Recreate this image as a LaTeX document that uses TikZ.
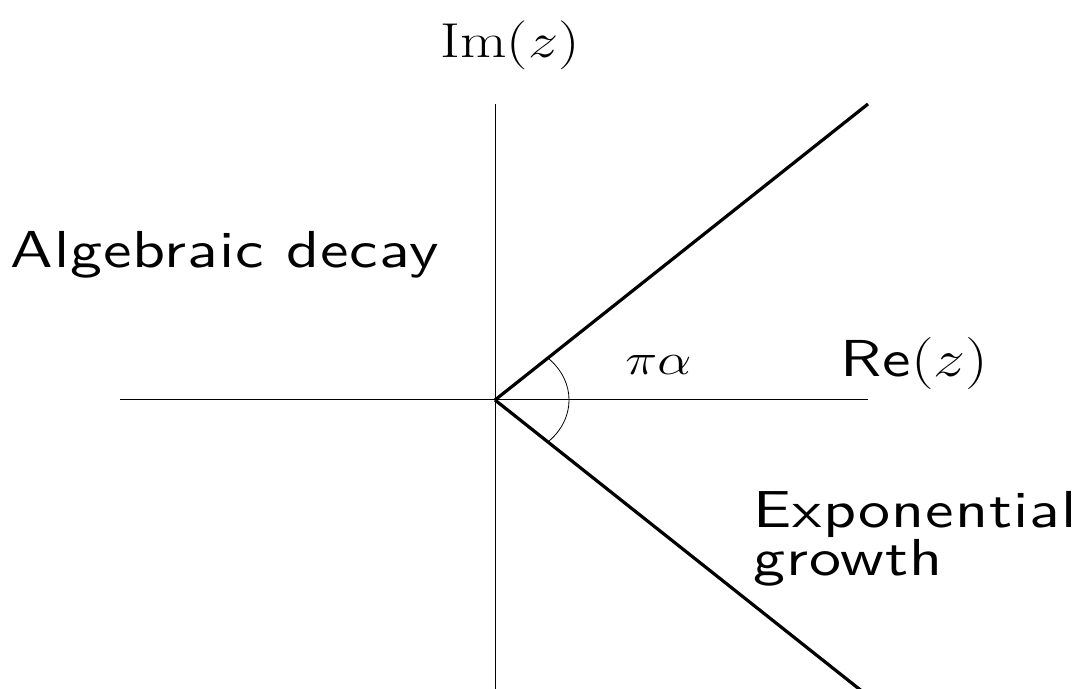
\RequirePackage{fix-cm}
\documentclass[tikz,border=0pt]{standalone}
\usepackage{fontspec}
\setsansfont{lmsans10-regular.otf}[LetterSpace=1.5]
\usepackage{tikz}
\usetikzlibrary{positioning}

\begin{document}
\begin{tikzpicture}[x=0.5pt,y=0.5pt,
  axis/.style={line width=0.5pt},
  ray/.style={line width=1.6pt},
  lbl/.style={inner sep=0pt,anchor=base west,xscale=1.23,font=\fontsize{26}{21.5}\selectfont\sffamily}]
\useasboundingbox (0,0) rectangle (1077,689);
\clip (0,0) rectangle (1077,689);
% Axes
\coordinate (O) at (495,289);
\coordinate (ytop) at (495,585);
\coordinate (ybot) at (495,0);
\coordinate (xleft) at (120,289);
\coordinate (xright) at (868,289);
\draw[axis] (xleft) -- (xright);
\draw[axis] (ybot) -- (ytop);
% Sector boundary
\coordinate (upper) at (868,585);
\coordinate (lower) at (868,-7);
\draw[ray] (O) -- (upper);
\draw[ray] (O) -- (lower);
% Angle
\draw[line width=0.4pt] (O) ++(53,-41.9) arc[start angle=-44.3,end angle=44.3,x radius=74,y radius=60];
% Labels
\node[inner sep=0pt,anchor=base,xscale=1.23,font=\fontsize{24.5}{30}\selectfont] (im) at (510,631) {Im$(z)$};
\node[lbl] (re) at (840,312) {Re$(z)$};
\node[lbl] (alg) at (10,421) {Algebraic decay};
\node[lbl,font=\fontsize{22}{26}\selectfont] (angle) at (625,314) {$\pi\alpha$};
\node[lbl,align=left] (exp) at (753,113) {Exponential\\growth};
\end{tikzpicture}
\end{document}
